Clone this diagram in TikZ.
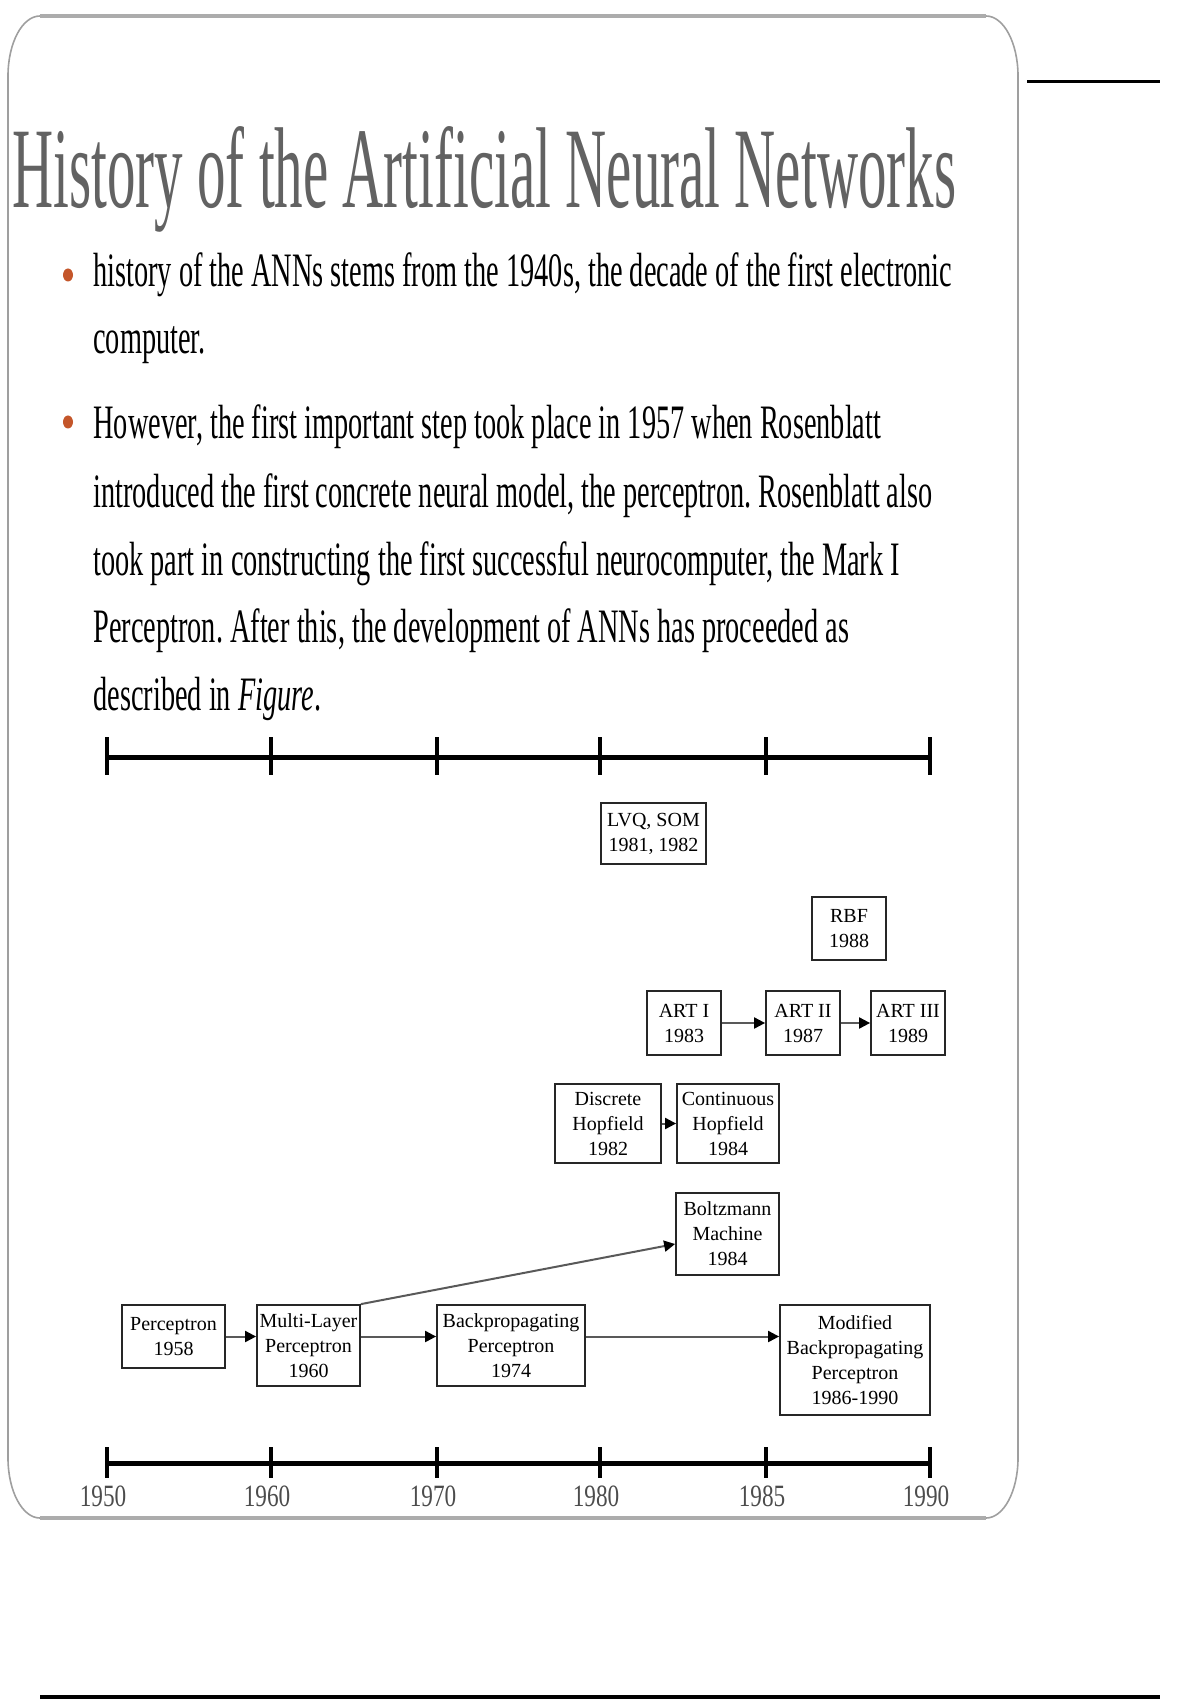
\documentclass[tikz,border=0pt]{standalone}
\usepackage{fontspec}
\setmainfont{Liberation Serif}
\newfontfamily\titlefont[FakeStretch=0.495]{Liberation Serif}
\newfontfamily\bodyfont[FakeStretch=0.59]{Liberation Serif}
\newfontfamily\yearfont[FakeStretch=0.75]{Liberation Serif}
\usetikzlibrary{shapes.geometric,arrows.meta,positioning}
\definecolor{titlegray}{HTML}{626262}
\definecolor{dotorange}{HTML}{C4562A}
\frenchspacing

\begin{document}
\begin{tikzpicture}[
  x=0.5pt, y=-0.5pt,
  frame/.style={draw=gray!75, line width=0.8pt},
  axis/.style={line width=2.5pt, black},
  axistick/.style={line width=2pt, black},
  txtline/.style={anchor=base west, inner sep=0pt, font=\bodyfont\fontsize{24}{28}\selectfont},
  dotmark/.style={ellipse, fill=dotorange, minimum width=5pt, minimum height=6.5pt, inner sep=0pt},
  evbox/.style={rectangle, draw=black!85, line width=0.9pt, inner sep=0pt, align=center, font=\fontsize{10}{12.5}\selectfont},
  arrow/.style={-{Triangle[length=5.5pt, width=5.5pt, color=black]}, line width=1pt, draw=gray!70!black},
  year/.style={font=\yearfont\fontsize{15.5}{16}\selectfont, text=black!70, inner sep=0pt, anchor=base},
]
\useasboundingbox (0,0) rectangle (1200,1700);

% slide frame
\draw[frame] (8,76) -- (8,1458) arc[start angle=180, end angle=90, x radius=32, y radius=60]
  -- (986,1518) arc[start angle=90, end angle=0, x radius=32, y radius=60]
  -- (1018,76) arc[start angle=0, end angle=-90, x radius=32, y radius=60]
  -- (40,16) arc[start angle=-90, end angle=-180, x radius=32, y radius=60] -- cycle;
\draw[draw=gray!65, line width=1.6pt] (40,16) -- (986,16);
\draw[draw=gray!65, line width=1.8pt] (40,1518) -- (986,1518);
\draw[line width=1.5pt] (1027,82) -- (1160,82);
\draw[line width=2pt] (40,1697) -- (1160,1697);

% title and text
\node[anchor=base west, inner sep=0pt, font=\titlefont\fontsize{57.5}{60}\selectfont, text=titlegray] (title) at (12,208) {History of the Artificial Neural Networks};
\node[dotmark] (dot1) at (68,275) {};
\node[dotmark] (dot2) at (68,422) {};
\node[txtline] (l1) at (93,287) {history of the ANNs stems from the 1940s, the decade of the first electronic};
\node[txtline] (l2) at (93,354) {computer.};
\node[txtline] (l3) at (93,438) {However, the first important step took place in 1957 when Rosenblatt};
\node[txtline] (l4) at (93,507) {introduced the first concrete neural model, the perceptron. Rosenblatt also};
\node[txtline] (l5) at (93,575) {took part in constructing the first successful neurocomputer, the Mark I};
\node[txtline] (l6) at (93,642) {Perceptron. After this, the development of ANNs has proceeded as};
\node[txtline] (l7) at (93,710) {described in \textit{Figure}.};

% time axes
\draw[axis] (107,757) -- (930,757);
\draw[axis] (107,1463) -- (930,1463);
\foreach \x/\yr in {107/1950, 271/1960, 437/1970, 600/1980, 766/1985, 930/1990} {
  \draw[axistick] (\x,737) -- (\x,775);
  \draw[axistick] (\x,1447) -- (\x,1478);
  \node[year] (yr\yr) at (\x-4,1506) {\yr};
}

% events
\node[evbox, minimum width=52.5pt, minimum height=30.5pt] (lvq) at (653.5,833.5) {LVQ, SOM\\1981, 1982};
\node[evbox, minimum width=37pt, minimum height=31.5pt] (rbf) at (849,928.5) {RBF\\1988};
\node[evbox, minimum width=37pt, minimum height=32pt] (art1) at (684,1023) {ART I\\1983};
\node[evbox, minimum width=37pt, minimum height=32pt] (art2) at (803,1023) {ART II\\1987};
\node[evbox, minimum width=37pt, minimum height=32pt] (art3) at (908,1023) {ART III\\1989};
\node[evbox, minimum width=53pt, minimum height=39.5pt] (dhop) at (608,1123.5) {Discrete\\Hopfield\\1982};
\node[evbox, minimum width=51pt, minimum height=39.5pt] (chop) at (728,1123.5) {Continuous\\Hopfield\\1984};
\node[evbox, minimum width=51.5pt, minimum height=41pt] (boltz) at (727.5,1234) {Boltzmann\\Machine\\1984};
\node[evbox, minimum width=51.5pt, minimum height=31.5pt] (perc) at (173.5,1336.5) {Perceptron\\1958};
\node[evbox, minimum width=51.5pt, minimum height=40.5pt] (mlp) at (308.5,1345.5) {Multi-Layer\\Perceptron\\1960};
\node[evbox, minimum width=74pt, minimum height=40.5pt] (bpp) at (511,1345.5) {Backpropagating\\Perceptron\\1974};
\node[evbox, minimum width=75pt, minimum height=55pt] (mbpp) at (855,1360) {Modified\\Backpropagating\\Perceptron\\1986-1990};

\draw[arrow] (art1) -- (art2);
\draw[arrow] (art2) -- (art3);
\draw[arrow] (dhop) -- (chop);
\draw[arrow] (perc.east) -- (perc.east -| mlp.west);
\draw[arrow] (mlp.east |- perc.east) -- (bpp.west |- perc.east);
\draw[arrow] (bpp.east |- perc.east) -- (mbpp.west |- perc.east);
\draw[arrow] (mlp.north east) -- ([yshift=-5pt]boltz.west);

\end{tikzpicture}
\end{document}
